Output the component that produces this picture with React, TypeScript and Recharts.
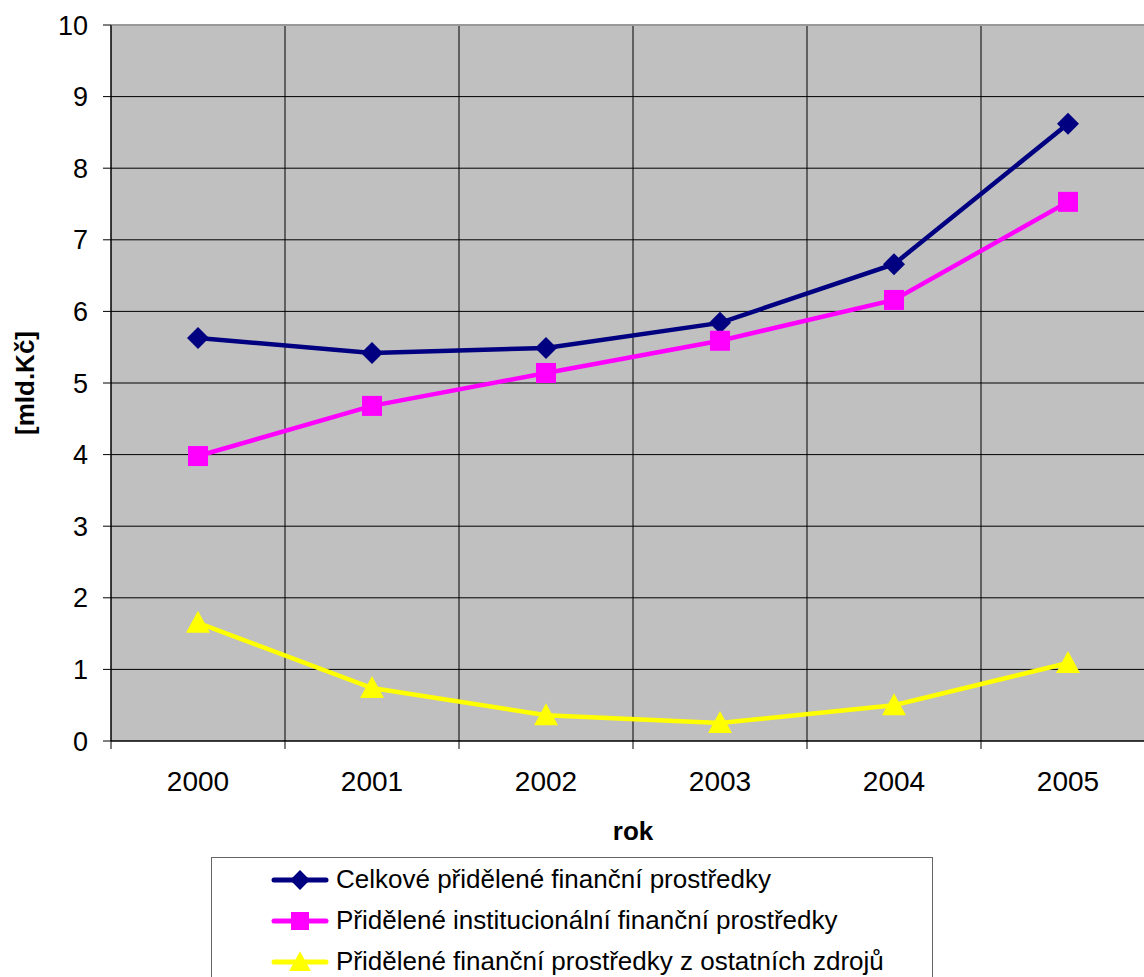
import React from "react";
import { LineChart, Line, XAxis, YAxis, CartesianGrid, Legend, ReferenceLine } from "recharts";

const years = ["2000", "2001", "2002", "2003", "2004", "2005"];
const celkove = [5.63, 5.42, 5.49, 5.84, 6.66, 8.62];
const institucionalni = [3.98, 4.68, 5.14, 5.59, 6.16, 7.53];
const ostatni = [1.65, 0.74, 0.36, 0.25, 0.5, 1.09];
const yTicks = [0, 1, 2, 3, 4, 5, 6, 7, 8, 9, 10];
const seriesNames = [
  "Celkové přidělené finanční prostředky",
  "Přidělené institucionální finanční prostředky",
  "Přidělené finanční prostředky z ostatních zdrojů",
];

const data = years.map((year, i) => ({
  idx: i,
  year,
  celkove: celkove[i],
  institucionalni: institucionalni[i],
  ostatni: ostatni[i],
}));

// x ticks at the band edges (Excel style), labels at band centres
const edgeTicks = years.map((_, i) => i - 0.5).concat(years.length - 0.5);
const centerTicks = years.map((_, i) => i);
const xDomain = [-0.5, years.length - 0.5];

const FONT = "'Liberation Sans', Arial, sans-serif";

const series = [
  { key: "celkove", name: seriesNames[0], color: "#000080", shape: "diamond" },
  { key: "institucionalni", name: seriesNames[1], color: "#FF00FF", shape: "square" },
  { key: "ostatni", name: seriesNames[2], color: "#FFFF00", shape: "triangle" },
];

function Marker({ cx, cy, shape, color, s = 1 }: any) {
  if (cx == null || cy == null) return null;
  if (shape === "diamond") {
    const r = 11 * s;
    return <polygon points={`${cx},${cy - r} ${cx + r},${cy} ${cx},${cy + r} ${cx - r},${cy}`} fill={color} />;
  }
  if (shape === "square") {
    const r = 10 * s;
    return <rect x={cx - r} y={cy - r} width={2 * r} height={2 * r} fill={color} />;
  }
  const w = 12 * s;
  return <polygon points={`${cx},${cy - 12 * s} ${cx + w},${cy + 10 * s} ${cx - w},${cy + 10 * s}`} fill={color} />;
}

function ChartLegend() {
  return (
    <div
      style={{
        boxSizing: "border-box",
        width: 722,
        height: 140,
        border: "1px solid #666",
        background: "#fff",
        paddingTop: 1,
        fontFamily: FONT,
        fontSize: 26,
        color: "#000",
      }}
    >
      {series.map((s) => (
        <div key={s.key} style={{ display: "flex", alignItems: "center", height: 41 }}>
          <svg width={58} height={26} style={{ marginLeft: 59, flex: "none" }}>
            <line x1={3} y1={13} x2={55} y2={13} stroke={s.color} strokeWidth={5} strokeLinecap="round" />
            <Marker cx={29} cy={13} shape={s.shape} color={s.color} s={0.9} />
          </svg>
          <span style={{ marginLeft: 7, whiteSpace: "nowrap" }}>{s.name}</span>
        </div>
      ))}
    </div>
  );
}

export default function App() {
  return (
    <div style={{ position: "absolute", left: 0, top: 0, width: 1144, height: 977, overflow: "hidden", background: "#fff" }}>
      <LineChart width={1160} height={997} data={data} margin={{ top: 25, right: 5, left: 0, bottom: 0 }}>
        <CartesianGrid
          xAxisId="grid"
          verticalValues={edgeTicks}
          horizontalValues={yTicks}
          fill="#C0C0C0"
          fillOpacity={1}
          stroke="#000"
          strokeWidth={1}
        />
        <ReferenceLine xAxisId="grid" y={10} stroke="#999" strokeWidth={2} />
        <XAxis
          xAxisId="grid"
          type="number"
          dataKey="idx"
          domain={xDomain}
          ticks={edgeTicks}
          interval={0}
          tickFormatter={() => ""}
          tickSize={8}
          height={8}
          axisLine={{ stroke: "#000" }}
          tickLine={{ stroke: "#000" }}
        />
        <XAxis
          xAxisId="lab"
          type="number"
          dataKey="idx"
          domain={xDomain}
          ticks={centerTicks}
          interval={0}
          tickFormatter={(v: number) => years[v]}
          axisLine={false}
          tickLine={false}
          tickSize={0}
          tickMargin={22}
          height={108}
          tick={{ fill: "#000", fontSize: 28, fontFamily: FONT }}
          label={{
            content: ({ viewBox }: any) => (
              <text
                x={viewBox.x + viewBox.width / 2}
                y={viewBox.y + 91}
                textAnchor="middle"
                fontFamily={FONT}
                fontSize={26}
                fontWeight="bold"
                fill="#000"
              >
                rok
              </text>
            ),
          }}
        />
        <YAxis
          domain={[0, 10]}
          ticks={yTicks}
          interval={0}
          width={111}
          tickSize={8}
          tickMargin={15}
          axisLine={{ stroke: "#000" }}
          tickLine={{ stroke: "#000" }}
          tick={{ fill: "#000", fontSize: 27, fontFamily: FONT }}
          label={{
            content: ({ viewBox }: any) => {
              const x = viewBox.x + 25;
              const y = viewBox.y + viewBox.height / 2;
              return (
                <text
                  x={x}
                  y={y}
                  transform={`rotate(-90 ${x} ${y})`}
                  textAnchor="middle"
                  dominantBaseline="central"
                  fontFamily={FONT}
                  fontSize={26}
                  fontWeight="bold"
                  fill="#000"
                >
                  [mld.Kč]
                </text>
              );
            },
          }}
        />
        {series.map((s) => (
          <Line
            key={s.key}
            xAxisId="lab"
            type="linear"
            dataKey={s.key}
            name={s.name}
            stroke={s.color}
            strokeWidth={4.5}
            dot={(p: any) => <Marker key={`${s.key}-${p.index}`} cx={p.cx} cy={p.cy} shape={s.shape} color={s.color} />}
            activeDot={false}
            isAnimationActive={false}
          />
        ))}
        <Legend
          content={() => <ChartLegend />}
          wrapperStyle={{ position: "absolute", left: 211, top: 857, width: 722, height: 140 }}
        />
      </LineChart>
    </div>
  );
}
